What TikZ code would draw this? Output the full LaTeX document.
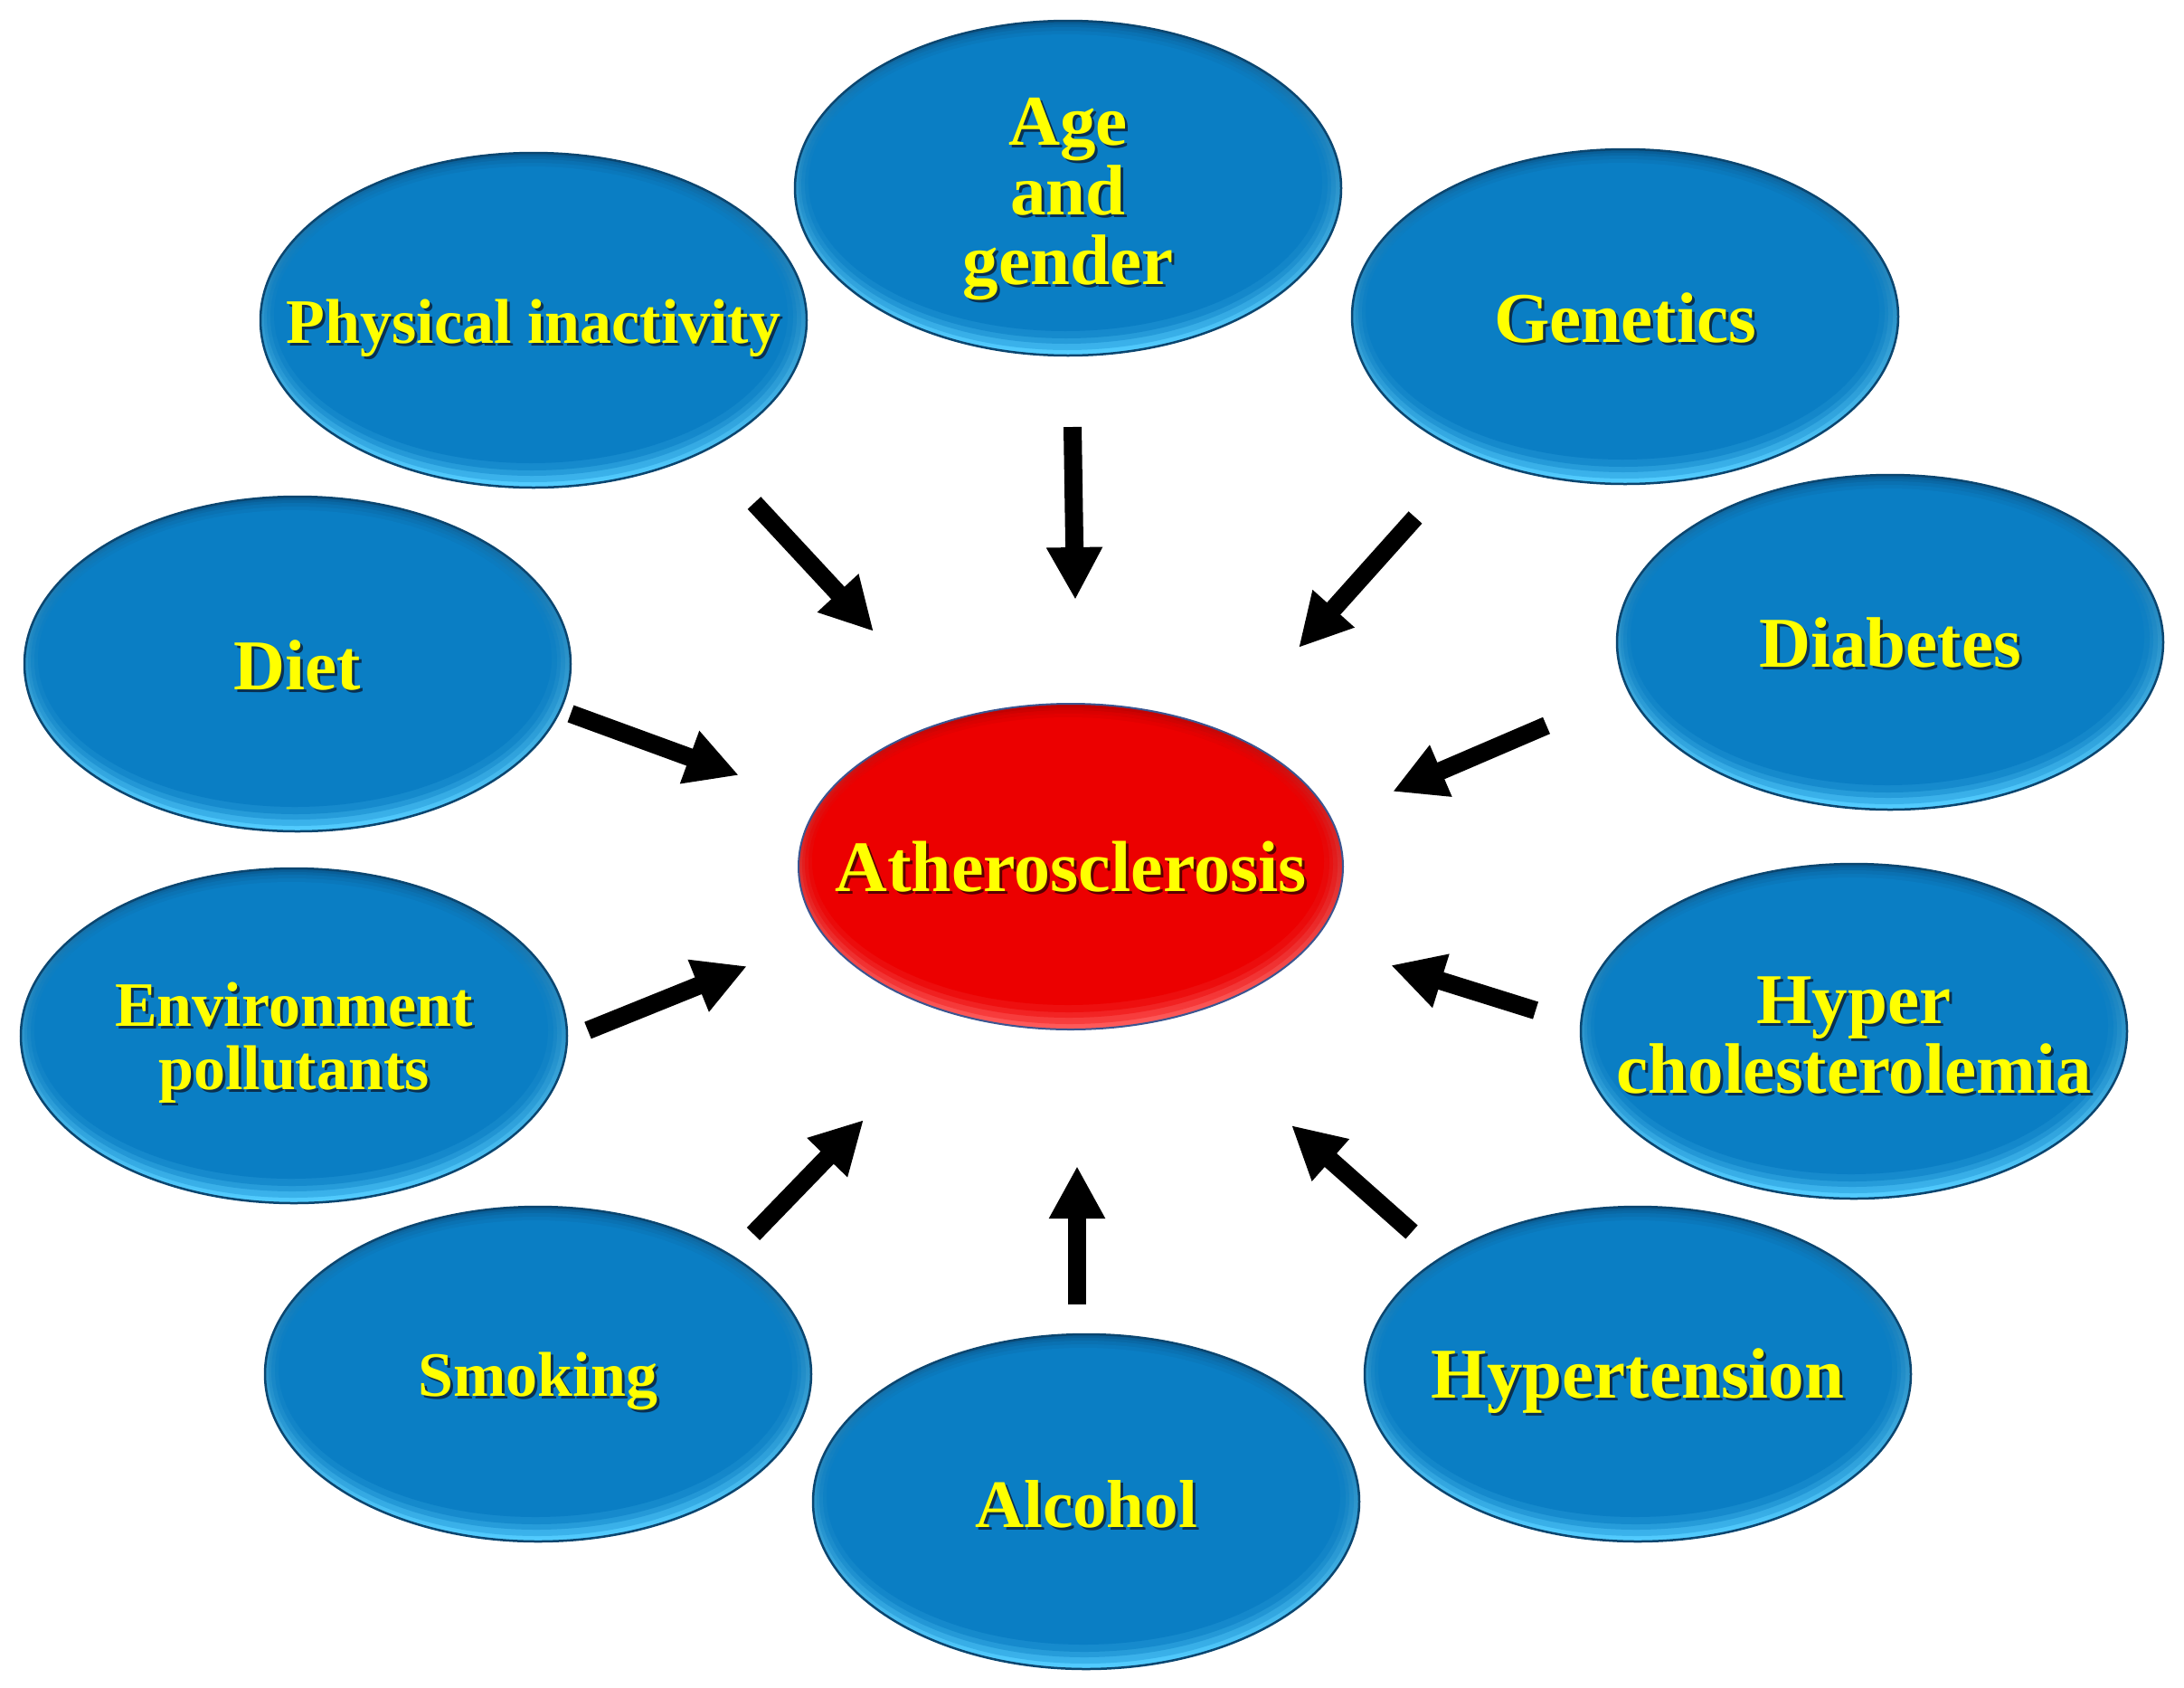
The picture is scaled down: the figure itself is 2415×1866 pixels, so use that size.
\documentclass[tikz,border=0pt]{standalone}
\usepackage{fontspec}
\setmainfont{Liberation Serif}
\usetikzlibrary{shapes.geometric,arrows.meta}
\definecolor{txtyellow}{HTML}{FFFF00}
\definecolor{bluemain}{HTML}{0A7EC4}
\definecolor{bluetop}{HTML}{085E98}
\definecolor{bluebot}{HTML}{52CCFF}
\definecolor{edgeblue}{HTML}{0B4670}
\definecolor{redmain}{HTML}{EC0000}
\definecolor{redtop}{HTML}{C00000}
\definecolor{redbot}{HTML}{FF5A5A}
\definecolor{edgered}{HTML}{3B5590}
\definecolor{bshad}{HTML}{0A3050}
\definecolor{rshad}{HTML}{5A0000}
\def\lowr{8pt}
\newcommand\shd[2][bshad]{\leavevmode\raisebox{-\lowr}[\height][\depth]{\rlap{\hspace{3pt}\raisebox{-3pt}{\color{#1}#2}}#2}}
% bevel: #1 top colour, #2 bottom colour, #3 main colour, #4 x radius, #5 y radius
\newcommand\bevel[5]{%
  \shade[top color=#1, bottom color=#2]
    (path picture bounding box.south west) rectangle (path picture bounding box.north east);
  \fill[#3, opacity=0.3] ([xshift=-1pt,yshift=1pt]path picture bounding box.center)
    ellipse [x radius=#4pt-5pt, y radius=#5pt-5pt];
  \fill[#3, opacity=0.4] ([xshift=-2pt,yshift=3pt]path picture bounding box.center)
    ellipse [x radius=#4pt-9pt, y radius=#5pt-10pt];
  \fill[#3, opacity=0.55] ([xshift=-2pt,yshift=4pt]path picture bounding box.center)
    ellipse [x radius=#4pt-13pt, y radius=#5pt-15pt];
  \fill[#3] ([xshift=-3pt,yshift=6pt]path picture bounding box.center)
    ellipse [x radius=#4pt-18pt, y radius=#5pt-21pt];
}
\tikzset{
  blueell/.style={ellipse, minimum width=604pt, minimum height=370pt, inner ysep=0pt,
    inner xsep=-120pt, align=center, text=txtyellow, draw=edgeblue, line width=2.5pt,
    font=\bfseries\fontsize{79}{77}\selectfont,
    path picture={\bevel{bluetop}{bluebot}{bluemain}{302}{185}}},
  redell/.style={ellipse, minimum width=602pt, minimum height=360pt, inner ysep=0pt,
    inner xsep=-120pt, align=center, text=txtyellow, draw=edgered, line width=2pt,
    font=\bfseries\fontsize{80}{78}\selectfont,
    path picture={\bevel{redtop}{redbot}{redmain}{301}{180}}},
  smallfont/.style={font=\bfseries\fontsize{70}{70}\selectfont},
  midfont/.style={font=\bfseries\fontsize{75}{75}\selectfont},
  lower/.code={\def\lowr{#1}},
  arr/.style={line width=20pt, draw=black, -{Triangle[width=58pt,length=58pt]}},
}
\begin{document}
\begin{tikzpicture}[x=1pt,y=-1pt]
  \useasboundingbox (0,0) rectangle (2415,1866);
  \fill[white] (0,0) rectangle (2415,1866);

  \node[blueell,lower=14pt] (age)  at (1181,208) {\shd{Age}\\\shd{and}\\\shd{gender}};
  \node[blueell,smallfont,lower=10pt] (phys) at (590,354) {\shd{Physical inactivity}};
  \node[blueell,lower=3pt] (gen)  at (1797,350) {\shd{Genetics}};
  \node[blueell,lower=3pt] (diet) at (329,734) {\shd{Diet}};
  \node[blueell,lower=2pt] (diab) at (2090,710) {\shd{Diabetes}};
  \node[redell,lower=2pt]  (ath)  at (1184,958) {\shd[rshad]{Atherosclerosis}};
  \node[blueell,smallfont,lower=9pt] (env)  at (325,1145) {\shd{Environment}\\\shd{pollutants}};
  \node[blueell,lower=6pt] (hyp)  at (2050,1140) {\shd{Hyper}\\\shd{cholesterolemia}};
  \node[blueell,smallfont,lower=9pt] (smk)  at (595,1519) {\shd{Smoking}};
  \node[blueell,lower=9pt] (htn)  at (1811,1519) {\shd{Hypertension}};
  \node[blueell,midfont,lower=4pt] (alc)  at (1201,1660) {\shd{Alcohol}};

  \coordinate (physA) at (834,556);  \coordinate (physB) at (966,698);
  \coordinate (ageA)  at (1186,472); \coordinate (ageB)  at (1189,663);
  \coordinate (genA)  at (1565,572); \coordinate (genB)  at (1436,716);
  \coordinate (dietA) at (631,789);  \coordinate (dietB) at (817,857);
  \coordinate (diabA) at (1710,802); \coordinate (diabB) at (1540,875);
  \coordinate (envA)  at (650,1139); \coordinate (envB)  at (826,1068);
  \coordinate (hypA)  at (1698,1117);\coordinate (hypB)  at (1538,1067);
  \coordinate (smkA)  at (833,1364); \coordinate (smkB)  at (955,1238);
  \coordinate (alcA)  at (1191,1442);\coordinate (alcB)  at (1191,1289);
  \coordinate (htnA)  at (1561,1362);\coordinate (htnB)  at (1428,1244);

  \draw[arr] (physA) -- (physB);
  \draw[arr] (ageA) -- (ageB);
  \draw[arr] (genA) -- (genB);
  \draw[arr] (dietA) -- (dietB);
  \draw[arr] (diabA) -- (diabB);
  \draw[arr] (envA) -- (envB);
  \draw[arr] (hypA) -- (hypB);
  \draw[arr] (smkA) -- (smkB);
  \draw[arr] (alcA) -- (alcB);
  \draw[arr] (htnA) -- (htnB);
\end{tikzpicture}
\end{document}
